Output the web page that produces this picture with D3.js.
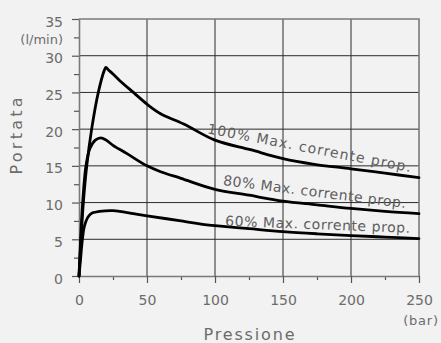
<!DOCTYPE html>
<html>
<head>
<meta charset="utf-8">
<script src="https://cdn.jsdelivr.net/npm/d3@7"></script>
<style>
  html, body { margin: 0; padding: 0; background: #f2f2f2; }
  svg { display: block; font-family: "DejaVu Sans", sans-serif; }
</style>
</head>
<body>
<script>
// Curve data (pressure in bar, flow in l/min)
const p100 = [0, 1.5, 3.2, 5.7, 9.3, 14.2, 18.6, 19.8, 21.5, 25, 30, 40, 50, 60, 77, 100, 126, 150, 172, 200, 225, 250];
const q100 = [0, 5, 10, 15, 20, 25, 28.0, 28.4, 28.1, 27.5, 26.6, 25.0, 23.4, 22.1, 20.7, 18.5, 17.2, 16.0, 15.25, 14.6, 14.0, 13.4];

const p80 = [0, 1.2, 2.7, 5.1, 8.1, 12, 16, 20, 25, 35, 50, 60, 75, 100, 125, 150, 175, 200, 225, 250];
const q80 = [0, 5, 10, 15, 17.4, 18.5, 18.8, 18.5, 17.8, 16.7, 15.0, 14.2, 13.3, 11.8, 11.0, 10.2, 9.7, 9.2, 8.8, 8.5];

const p60 = [0, 1, 2.5, 4, 6.9, 10, 15, 25, 30, 40, 50, 75, 94, 100, 125, 150, 175, 200, 225, 250];
const q60 = [0, 2, 5, 6.8, 8.1, 8.6, 8.8, 8.9, 8.8, 8.5, 8.2, 7.5, 6.95, 6.86, 6.45, 6.05, 5.75, 5.5, 5.3, 5.1];

const seriesLabels = ["100% Max. corrente prop.", "80% Max. corrente prop.", "60% Max. corrente prop."];

const xTicks = [0, 50, 100, 150, 200, 250];
const xMinor = [25, 75, 125, 175, 225];
const yTicks = [0, 5, 10, 15, 20, 25, 30, 35];
const yMinor = [2.5, 7.5, 12.5, 17.5, 22.5, 27.5, 32.5];

const xTitle = "Pressione";
const yTitle = "Portata";
const xUnit = "(bar)";
const yUnit = "(l/min)";

const W = 441, H = 343;
const plot = { left: 79, right: 419, top: 19, bottom: 276 };
const textColor = "#6c6c6c";

const svg = d3.select("body").append("svg")
  .attr("width", W)
  .attr("height", H);

const x = d3.scaleLinear().domain([0, 250]).range([plot.left, plot.right]);
const y = d3.scaleLinear().domain([0, 35]).range([plot.bottom, plot.top]);

// Grid lines
svg.append("g")
  .selectAll("line")
  .data(xTicks.slice(1, -1))
  .join("line")
  .attr("x1", d => x(d)).attr("x2", d => x(d))
  .attr("y1", plot.top).attr("y2", plot.bottom)
  .attr("stroke", "#2a2a2a")
  .attr("stroke-width", 1);

svg.append("g")
  .selectAll("line")
  .data(yTicks.slice(1, -1))
  .join("line")
  .attr("x1", plot.left).attr("x2", plot.right)
  .attr("y1", d => y(d)).attr("y2", d => y(d))
  .attr("stroke", "#2a2a2a")
  .attr("stroke-width", 1);

// Frame (top and right)
svg.append("path")
  .attr("d", `M${x(0)},${y(35)}H${x(250)}V${y(0)}`)
  .attr("fill", "none")
  .attr("stroke", "#7a7a7a")
  .attr("stroke-width", 1.6);

// Minor ticks
svg.append("g")
  .attr("transform", `translate(0,${plot.bottom})`)
  .call(d3.axisBottom(x).tickValues(xMinor).tickSize(4).tickFormat(""))
  .call(g => g.select(".domain").remove())
  .selectAll("line").attr("stroke", "#555").attr("stroke-width", 1.2);

svg.append("g")
  .attr("transform", `translate(${plot.left},0)`)
  .call(d3.axisLeft(y).tickValues(yMinor).tickSize(5).tickFormat(""))
  .call(g => g.select(".domain").remove())
  .selectAll("line").attr("stroke", "#555").attr("stroke-width", 1.2);

// Major axes
const xAxis = svg.append("g")
  .attr("transform", `translate(0,${plot.bottom})`)
  .call(d3.axisBottom(x).tickValues(xTicks).tickSize(7).tickPadding(12).tickSizeOuter(0));

const yAxis = svg.append("g")
  .attr("transform", `translate(${plot.left},0)`)
  .call(d3.axisLeft(y).tickValues(yTicks).tickSize(7).tickPadding(9).tickSizeOuter(0));

[xAxis, yAxis].forEach(g => {
  g.select(".domain").attr("stroke", "#7a7a7a").attr("stroke-width", 1.6);
  g.selectAll(".tick line").attr("stroke", "#555").attr("stroke-width", 1.2);
  g.selectAll(".tick text")
    .attr("fill", textColor)
    .style("font-size", "14px")
    .style("font-family", "DejaVu Sans, sans-serif");
});
yAxis.selectAll(".tick text").attr("dy", "0.5em");

// Units
svg.append("text")
  .attr("x", plot.left - 16)
  .attr("y", y(32.5) + 7)
  .attr("text-anchor", "end")
  .attr("fill", textColor)
  .style("font-size", "13px")
  .text(yUnit);

svg.append("text")
  .attr("x", x(250) + 2)
  .attr("y", 325)
  .attr("text-anchor", "middle")
  .attr("fill", textColor)
  .style("font-size", "13px")
  .style("letter-spacing", "0.8px")
  .text(xUnit);

// Axis titles
svg.append("text")
  .attr("x", x(125))
  .attr("y", 340)
  .attr("text-anchor", "middle")
  .attr("fill", textColor)
  .style("font-size", "16px")
  .attr("textLength", 91)
  .attr("lengthAdjust", "spacing")
  .text(xTitle);

svg.append("text")
  .attr("transform", `translate(22,136) rotate(-90)`)
  .attr("text-anchor", "middle")
  .attr("fill", textColor)
  .style("font-size", "16px")
  .attr("textLength", 77)
  .attr("lengthAdjust", "spacing")
  .text(yTitle);

// Curves
const line = d3.line()
  .x(d => x(d[0]))
  .y(d => y(d[1]))
  .curve(d3.curveCatmullRom.alpha(0.5));

const series = [
  d3.zip(p100, q100),
  d3.zip(p80, q80),
  d3.zip(p60, q60)
];

svg.append("g")
  .selectAll("path")
  .data(series)
  .join("path")
  .attr("d", line)
  .attr("fill", "none")
  .attr("stroke", "#000")
  .attr("stroke-width", 2.8)
  .attr("stroke-linejoin", "round")
  .attr("stroke-linecap", "round");

// Curve labels (anchor in data units, angle, length)
const labelPlacement = [
  { px: 93.9, q: 19.45, angle: 10.8, len: 207 },
  { px: 105.7, q: 12.4, angle: 7.2, len: 184 },
  { px: 107.4, q: 6.85, angle: 2.2, len: 185 }
];

svg.append("g")
  .selectAll("text")
  .data(seriesLabels)
  .join("text")
  .attr("transform", (d, i) => `translate(${x(labelPlacement[i].px)},${y(labelPlacement[i].q)}) rotate(${labelPlacement[i].angle})`)
  .attr("fill", "#5e5e5e")
  .style("font-size", "14px")
  .attr("textLength", (d, i) => labelPlacement[i].len)
  .attr("lengthAdjust", "spacing")
  .text(d => d);
</script>
</body>
</html>
